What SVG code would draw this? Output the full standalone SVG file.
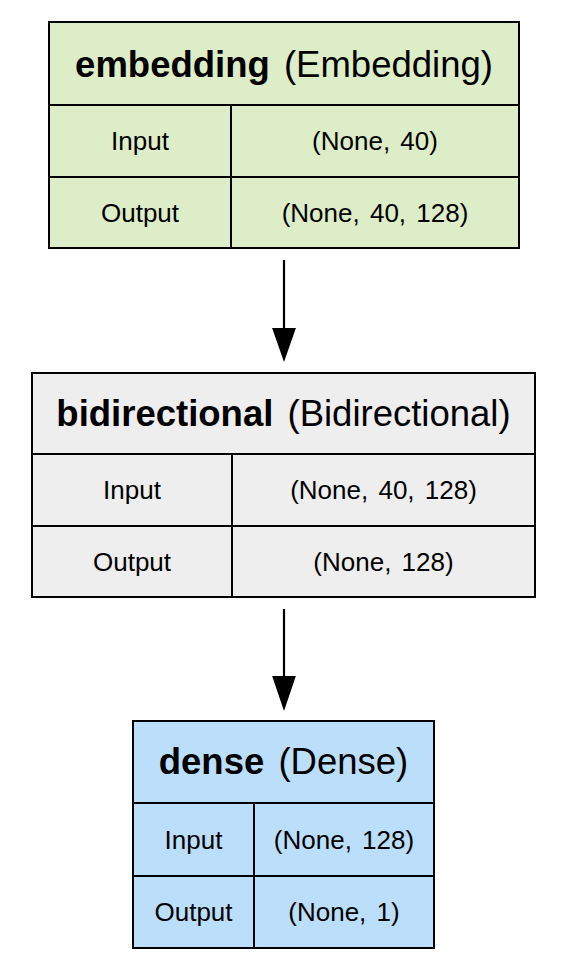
<svg xmlns="http://www.w3.org/2000/svg" width="568" height="970" viewBox="0 0 568 970">
<style>
.box{stroke:#000;stroke-width:2}
.ln{stroke:#000;stroke-width:2;fill:none}
text{font-family:"Liberation Sans",Arial,sans-serif;fill:#000;text-anchor:middle}
.t{font-size:36.5px;word-spacing:4px}
.t tspan.b{font-weight:bold}
.c{font-size:26px;word-spacing:3px}
.edge{stroke:#000;stroke-width:2.2;fill:none}
.head{fill:#000;stroke:#000;stroke-width:2}
</style>
<rect width="568" height="970" fill="#fff"/>
<g id="embedding">
<rect class="box" x="49" y="22" width="470" height="226" fill="#dcedc8"/>
<path class="ln" d="M49 105H519M49 177H519M231 105V248"/>
<text class="t" x="284" y="77"><tspan class="b">embedding</tspan> (Embedding)</text>
<text class="c" x="140" y="150">Input</text>
<text class="c" x="375" y="150">(None, 40)</text>
<text class="c" x="140" y="221.5">Output</text>
<text class="c" x="375" y="221.5">(None, 40, 128)</text>
</g>
<g id="bidirectional">
<rect class="box" x="32" y="373" width="503" height="224" fill="#eeeeee"/>
<path class="ln" d="M32 454H535M32 526H535M232 454V597"/>
<text class="t" x="283.5" y="425.5"><tspan class="b">bidirectional</tspan> (Bidirectional)</text>
<text class="c" x="132" y="499">Input</text>
<text class="c" x="383.5" y="499">(None, 40, 128)</text>
<text class="c" x="132" y="570.5">Output</text>
<text class="c" x="383.5" y="570.5">(None, 128)</text>
</g>
<g id="dense">
<rect class="box" x="133" y="721" width="301" height="227" fill="#bbdefb"/>
<path class="ln" d="M133 803H434M133 876H434M254 803V948"/>
<text class="t" x="283.5" y="774"><tspan class="b">dense</tspan> (Dense)</text>
<text class="c" x="193.5" y="848.5">Input</text>
<text class="c" x="344" y="848.5">(None, 128)</text>
<text class="c" x="193.5" y="921">Output</text>
<text class="c" x="344" y="921">(None, 1)</text>
</g>
<g id="connectors">
<path class="edge" d="M284 260V330"/>
<polygon class="head" points="273.5,329 294.5,329 284,359"/>
<path class="edge" d="M284 609V678"/>
<polygon class="head" points="273.5,677 294.5,677 284,708"/>
</g>
</svg>
